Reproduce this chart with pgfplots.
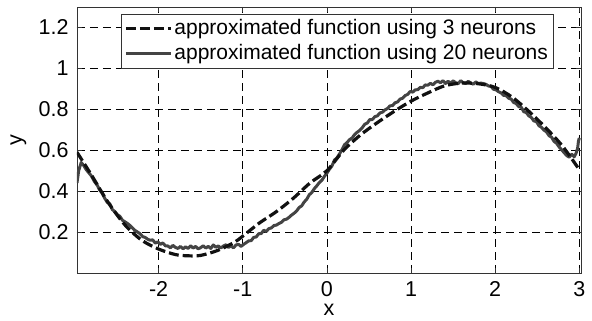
\documentclass[border=0pt]{standalone}
\usepackage{pgfplots}
\pgfplotsset{compat=1.18}
\usetikzlibrary{calc}
\usepackage{fontspec}
\setmainfont{Liberation Sans}
\definecolor{darkline}{HTML}{111111}
\definecolor{grayline}{HTML}{444444}
\begin{document}
\fontsize{21.5}{25}\selectfont
\begin{tikzpicture}
\begin{axis}[
  scale only axis,
  width=504pt, height=266pt,
  xmin=-2.97, xmax=3.02, ymin=0, ymax=1.3,
  xtick={-2,-1,0,1,2,3},
  ytick={0.2,0.4,0.6,0.8,1,1.2},
  yticklabels={0.2,0.4,0.6,0.8,1,1.2},
  xticklabels={-2,-1,0,1,2,3},
  tick align=inside,
  major tick length=5pt,
  tick style={black!80, line width=0.6pt},
  axis line style={black!80, line width=0.8pt},
  grid=major,
  major grid style={black, dash pattern=on 8pt off 5pt, line width=0.6pt},
  ticklabel style={font=\fontsize{21.5}{25}\selectfont},
  yticklabel style={xshift=-1pt},
  xticklabel style={yshift=-1pt},
  xlabel={x}, ylabel={y},
  label style={font=\fontsize{21.5}{25}\selectfont},
  xlabel style={at={(rel axis cs:0.5,0)}, anchor=base, yshift=-43pt},
  ylabel style={yshift=-2pt},
  legend style={at={(0.945,0.974)}, anchor=north east, draw=black!80, line width=0.6pt,
    font=\fontsize{21}{25}\selectfont, row sep=3pt, inner xsep=3pt, inner ysep=3pt,
    /tikz/every even column/.append style={column sep=3pt}},
  legend cell align=left,
  legend image code/.code={\draw[#1] (0pt,0pt) -- (45pt,0pt);},
]
\addlegendimage{darkline, line width=3.2pt, dash pattern=on 10pt off 4pt, line cap=butt}
\addlegendentry{approximated function using 3 neurons}
\addlegendimage{grayline, line width=3pt}
\addlegendentry{approximated function using 20 neurons}

\addplot[grayline, line width=3pt, line join=round, forget plot] coordinates {
(-2.97,0.44) (-2.95,0.50) (-2.92,0.54) (-2.89,0.525) (-2.86,0.505) (-2.83,0.49)
(-2.80,0.475) (-2.76,0.445) (-2.73,0.43) (-2.70,0.405) (-2.67,0.39) (-2.64,0.365)
(-2.61,0.345) (-2.58,0.338) (-2.55,0.31) (-2.52,0.30) (-2.49,0.285) (-2.46,0.277)
(-2.43,0.258) (-2.40,0.25) (-2.37,0.242) (-2.34,0.232) (-2.31,0.22) (-2.28,0.208)
(-2.25,0.20) (-2.22,0.192) (-2.19,0.178) (-2.16,0.174) (-2.13,0.165) (-2.10,0.16)
(-2.07,0.162) (-2.04,0.146) (-2.01,0.152) (-1.98,0.14) (-1.95,0.147) (-1.92,0.133)
(-1.89,0.132) (-1.86,0.123) (-1.83,0.135) (-1.80,0.125) (-1.77,0.12) (-1.74,0.13)
(-1.71,0.118) (-1.68,0.128) (-1.65,0.12) (-1.62,0.133) (-1.59,0.122) (-1.56,0.13)
(-1.53,0.118) (-1.50,0.124) (-1.47,0.133) (-1.44,0.122) (-1.41,0.13) (-1.38,0.12)
(-1.35,0.137) (-1.32,0.126) (-1.29,0.132) (-1.26,0.122) (-1.23,0.132) (-1.20,0.138)
(-1.17,0.125) (-1.14,0.132) (-1.11,0.123) (-1.08,0.137) (-1.05,0.14) (-1.02,0.13)
(-0.99,0.14) (-0.96,0.148) (-0.93,0.157) (-0.90,0.158) (-0.87,0.174) (-0.84,0.176)
(-0.81,0.192) (-0.78,0.193) (-0.75,0.209) (-0.72,0.203) (-0.69,0.217) (-0.66,0.22)
(-0.63,0.232) (-0.60,0.234) (-0.57,0.242) (-0.54,0.248) (-0.51,0.26) (-0.48,0.263)
(-0.45,0.272) (-0.42,0.283) (-0.39,0.292) (-0.36,0.303) (-0.33,0.32) (-0.30,0.328)
(-0.27,0.347) (-0.24,0.36) (-0.21,0.382) (-0.18,0.393) (-0.15,0.412) (-0.12,0.426)
(-0.09,0.442) (-0.06,0.453) (-0.03,0.472) (0.00,0.488) (0.03,0.507) (0.06,0.523)
(0.09,0.552) (0.12,0.563) (0.15,0.582) (0.18,0.603) (0.21,0.627) (0.24,0.638)
(0.27,0.652) (0.30,0.66) (0.33,0.677) (0.36,0.688) (0.39,0.697) (0.42,0.71)
(0.45,0.727) (0.48,0.733) (0.51,0.75) (0.54,0.75) (0.57,0.764) (0.60,0.768)
(0.63,0.782) (0.66,0.786) (0.69,0.797) (0.72,0.804) (0.75,0.817) (0.78,0.818)
(0.81,0.832) (0.84,0.836) (0.87,0.85) (0.90,0.854) (0.93,0.867) (0.96,0.873)
(0.99,0.887) (1.02,0.884) (1.05,0.895) (1.08,0.896) (1.11,0.907) (1.14,0.906)
(1.17,0.919) (1.20,0.918) (1.23,0.927) (1.26,0.92) (1.29,0.932) (1.32,0.937)
(1.35,0.93) (1.38,0.94) (1.41,0.926) (1.44,0.937) (1.47,0.928) (1.50,0.939)
(1.53,0.93) (1.56,0.925) (1.59,0.94) (1.62,0.93) (1.65,0.926) (1.68,0.937)
(1.71,0.928) (1.74,0.923) (1.77,0.934) (1.80,0.926) (1.83,0.928) (1.86,0.926)
(1.89,0.922) (1.92,0.914) (1.95,0.912) (1.98,0.898) (2.01,0.895) (2.04,0.886)
(2.07,0.88) (2.10,0.868) (2.13,0.867) (2.16,0.854) (2.19,0.85) (2.22,0.833)
(2.25,0.828) (2.28,0.813) (2.31,0.81) (2.34,0.788) (2.37,0.784) (2.40,0.768)
(2.43,0.76) (2.46,0.743) (2.49,0.74) (2.52,0.72) (2.55,0.712) (2.58,0.698)
(2.61,0.69) (2.64,0.671) (2.67,0.664) (2.70,0.643) (2.73,0.634) (2.76,0.616)
(2.79,0.602) (2.82,0.588) (2.85,0.574) (2.88,0.566) (2.91,0.58) (2.94,0.568)
(2.96,0.584) (2.98,0.61) (2.99,0.645) (3.00,0.66)
};

\addplot[darkline, line width=3.2pt, dash pattern=on 10pt off 4pt, line cap=butt, smooth, forget plot] coordinates {
(-2.97,0.59) (-2.8,0.48) (-2.6,0.345) (-2.4,0.235) (-2.2,0.16) (-2.0,0.117)
(-1.8,0.09) (-1.65,0.084) (-1.5,0.086) (-1.3,0.11) (-1.1,0.15) (-1.0,0.18)
(-0.8,0.245) (-0.6,0.30) (-0.4,0.365) (-0.2,0.44) (0,0.50) (0.2,0.60)
(0.4,0.675) (0.6,0.735) (0.8,0.79) (1.0,0.84) (1.2,0.88) (1.4,0.915)
(1.6,0.928) (1.8,0.925) (2.0,0.907) (2.2,0.86) (2.4,0.79) (2.6,0.71)
(2.8,0.62) (3.0,0.505)
};
\coordinate (sw) at (rel axis cs:0,0);
\coordinate (ne) at (rel axis cs:1,1);
\end{axis}
\pgfresetboundingbox
\path[use as bounding box] ($(sw)+(-77pt,-47.3pt)$) rectangle ($(ne)+(11pt,7pt)$);
\end{tikzpicture}
\end{document}
